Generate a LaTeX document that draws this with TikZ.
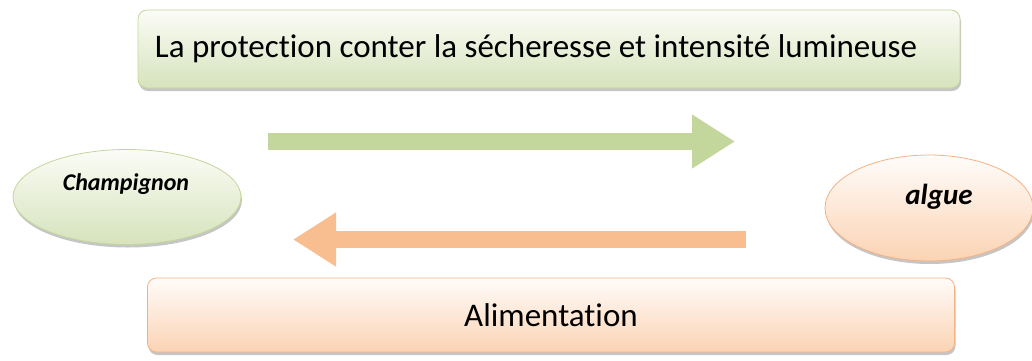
\documentclass[tikz,border=0pt]{standalone}
\usepackage{fontspec}
\setmainfont{Carlito}[Ligatures=NoCommon]
\usetikzlibrary{shapes.geometric,shadows,arrows.meta}
\definecolor{gtop}{HTML}{FBFCF6}
\definecolor{gbot}{HTML}{D6E3BC}
\definecolor{gline}{HTML}{C3D69B}
\definecolor{otop}{HTML}{FFFCFA}
\definecolor{obot}{HTML}{FBD3B3}
\definecolor{oline}{HTML}{F4B183}
\definecolor{garrow}{HTML}{C3D69B}
\definecolor{oarrow}{HTML}{F9BE8F}
\tikzset{
  greenbox/.style={draw=gline, line width=0.8pt, rounded corners=9pt, top color=gtop, bottom color=gbot,
    drop shadow={shadow xshift=1pt, shadow yshift=-3pt, fill=black!45, opacity=0.5}},
  orangebox/.style={draw=oline, line width=0.8pt, rounded corners=9pt, top color=otop, bottom color=obot,
    drop shadow={shadow xshift=1pt, shadow yshift=-3pt, fill=black!45, opacity=0.5}},
  greenell/.style={ellipse, draw=gline, line width=0.8pt, top color=gtop, bottom color=gbot,
    drop shadow={shadow xshift=1pt, shadow yshift=-3pt, fill=black!45, opacity=0.5}},
  orangeell/.style={ellipse, draw=oline, line width=0.8pt, top color=otop, bottom color=obot,
    drop shadow={shadow xshift=1pt, shadow yshift=-3pt, fill=black!45, opacity=0.5}},
  fatarrow/.style={line width=17pt, -{Triangle[width=51pt,length=43pt]}},
}
\begin{document}
\begin{tikzpicture}[x=1pt,y=-1pt]
\useasboundingbox (0,0) rectangle (1032,360);
\node[greenbox, minimum width=822pt, minimum height=78pt] (top) at (549,49) {};
\node (toptext) at (536,49) {\fontsize{33}{36}\selectfont La protection conter la sécheresse et intensité lumineuse};
\node[orangebox, minimum width=807pt, minimum height=74pt] (bot) at (551,315) {\fontsize{33}{36}\selectfont Alimentation};
\node[greenell, minimum width=228pt, minimum height=95pt] (champ) at (127,197) {};
\node (champtext) at (126,184) {\fontsize{24}{27}\selectfont\bfseries\itshape Champignon};
\node[orangeell, minimum width=208pt, minimum height=106pt] (algue) at (929,208) {};
\node (alguetext) at (939,197) {\fontsize{29}{32}\selectfont\bfseries\itshape algue};
\coordinate (g1) at (268,141.5);
\coordinate (g2) at (735,141.5);
\coordinate (o1) at (746,239.5);
\coordinate (o2) at (293,239.5);
\draw[fatarrow, draw=garrow, fill=garrow] (g1) -- (g2);
\draw[fatarrow, draw=oarrow, fill=oarrow] (o1) -- (o2);
\end{tikzpicture}
\end{document}
